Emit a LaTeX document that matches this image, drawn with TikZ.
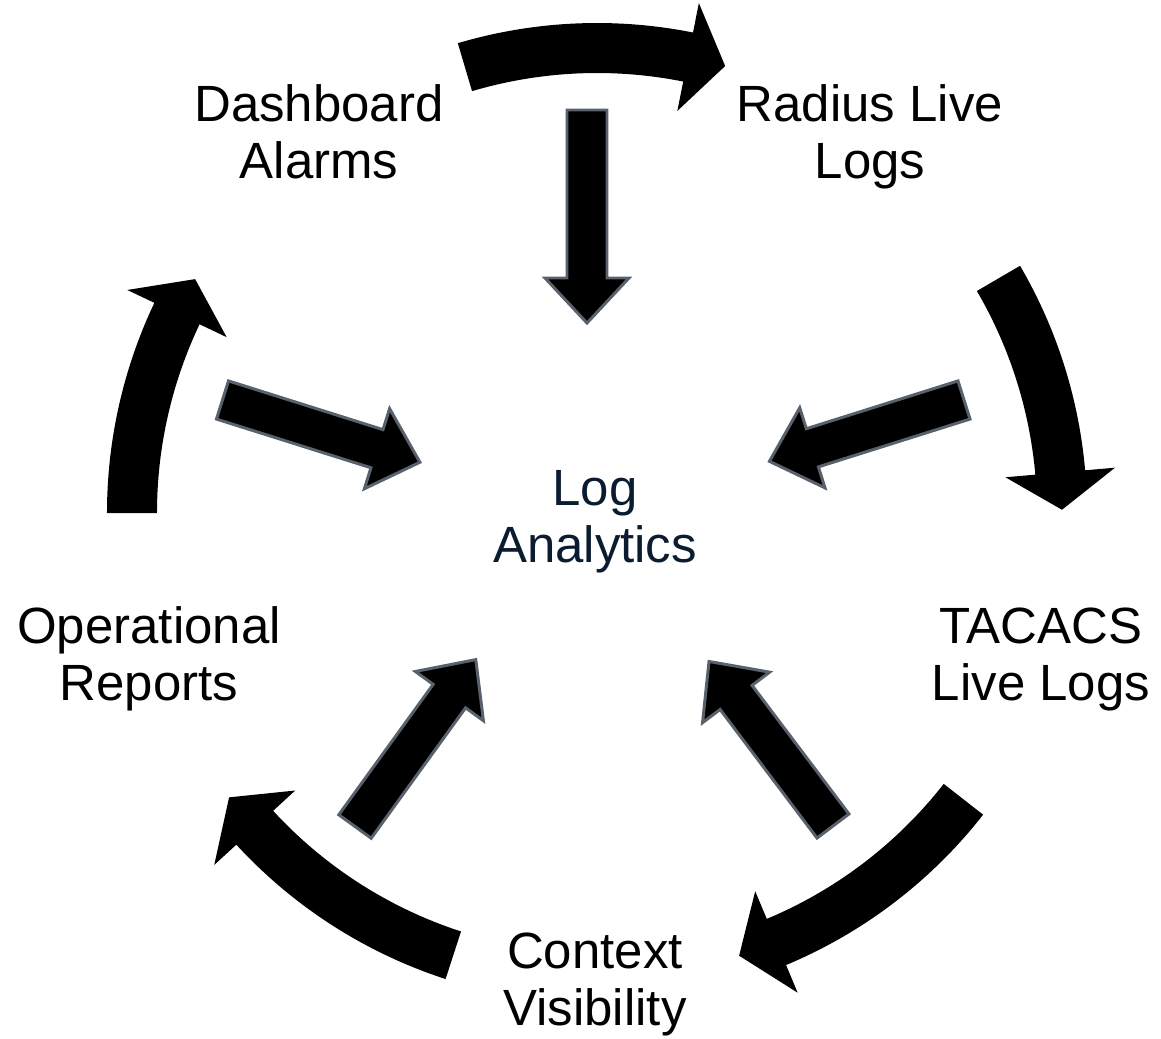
\documentclass[tikz,border=0pt]{standalone}
\usepackage{fontspec}
\setmainfont{Liberation Sans}
\definecolor{hubnavy}{HTML}{0B1B30}
\definecolor{arrowrim}{HTML}{58616C}
\begin{document}
\begin{tikzpicture}[x=0.02cm,y=0.02cm,
    stage/.style={align=center,anchor=base,font=\fontsize{29}{32}\selectfont},
    hub/.style={stage,text=hubnavy},
    inarrow/.style={fill=black,draw=arrowrim,line width=1.7pt,line join=miter}]
\useasboundingbox (-597,-526) rectangle (564,513);
\node[hub] (logs) at (-2,-49) {Log\\Analytics};
\node[stage] (dash) at (-278,335) {Dashboard\\Alarms};
\node[stage] (radius) at (273,335) {Radius Live\\Logs};
\node[stage] (tacacs) at (444,-187) {TACACS\\Live Logs};
\node[stage] (context) at (-2,-512) {Context\\Visibility};
\node[stage] (oper) at (-448,-187) {Operational\\Reports};
\foreach \t/\b/\p in {106.5/78.7/74, 30.3/5/0.4, -38/-67.3/-72.2, -108/-137.4/-142.3, 180/154.6/149.8}
  \fill (\t:440) arc[start angle=\t,end angle=\b,radius=440] -- (\b:410) -- (\p:465)
    -- (\b:520) -- (\b:490) arc[start angle=\b,end angle=\t,radius=490] -- cycle;
\foreach \x/\y/\a/\l in {-10/403/-90/213, -374.5/113/-17.5/207, 367/113/197.5/204, -242/-313.5/54.1/206, 236/-313/127/206}
  \filldraw[inarrow,shift={(\x,\y)},rotate=\a] (0,-20) -- (\l-45,-20) -- (\l-45,-42) -- (\l,0)
    -- (\l-45,42) -- (\l-45,20) -- (0,20) -- cycle;
\end{tikzpicture}
\end{document}
